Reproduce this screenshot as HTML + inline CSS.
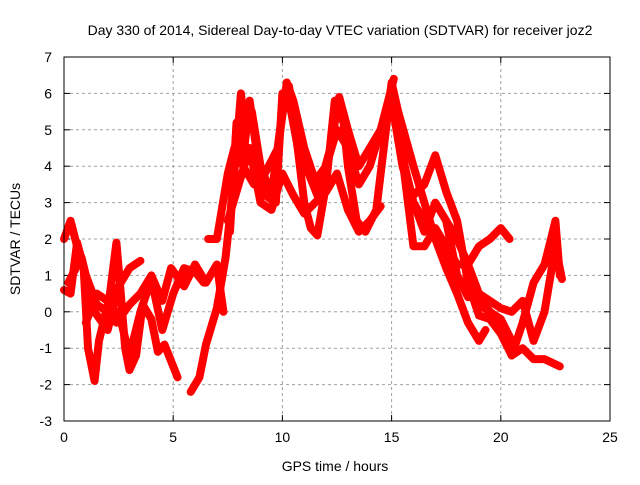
<!DOCTYPE html>
<html><head><meta charset="utf-8"><style>
body{margin:0;background:#fff}
svg text{font-family:"Liberation Sans",sans-serif;font-size:14px;fill:#000}
</style></head><body>
<svg id="chart" width="640" height="480" xmlns="http://www.w3.org/2000/svg">
<text x="340" y="35" text-anchor="middle">Day 330 of 2014, Sidereal Day-to-day VTEC variation (SDTVAR) for receiver joz2</text>
<text x="335" y="471" text-anchor="middle">GPS time / hours</text>
<text transform="translate(20,239) rotate(-90)" text-anchor="middle">SDTVAR / TECUs</text>
<g id="grid"></g>
<g id="ticks"></g>
<g id="series"></g>
<rect x="64" y="57" width="546" height="364" fill="none" stroke="#000" stroke-width="1"/>
</svg>
<script>
const xTicks=[0,5,10,15,20,25];
const yTicks=[-3,-2,-1,0,1,2,3,4,5,6,7];
const tracks=[
[[0,2.0],[0.3,2.5],[0.6,1.8],[0.9,1.2],[1.1,-1.0],[1.4,-1.9],[1.6,-0.8],[2.0,0.2]],
[[0,0.6],[0.3,0.5],[0.6,1.9],[1.0,1.0],[1.5,0.2],[2.0,0.0],[2.4,1.9],[2.6,0.5],[2.8,-1.0],[3.0,-1.6],[3.3,-1.2],[3.6,0.2],[4.0,-0.2],[4.3,-1.1],[4.6,-0.9],[5.0,-1.5],[5.2,-1.8]],
[[0.2,0.8],[0.8,1.5],[1.4,0.0],[2.0,-0.5],[2.5,0.7],[3.0,1.2],[3.5,1.4]],
[[1.0,-0.3],[1.5,0.5],[2.0,0.3],[2.4,-0.3],[3.0,0.2],[3.5,0.5],[4.0,1.0],[4.5,0.3],[4.9,1.2],[5.5,0.7],[6.0,1.3],[6.5,0.8],[7.0,1.3],[7.3,0.0]],
[[2.5,0.0],[3.0,-1.2],[3.5,0.0],[4.0,0.9],[4.5,-0.5],[5.0,0.5],[5.5,1.2],[6.0,1.1],[6.4,0.8]],
[[5.8,-2.2],[6.2,-1.8],[6.5,-0.9],[7.0,0.1],[7.4,1.5],[7.7,3.2],[7.9,4.5],[8.1,6.0],[8.3,5.0],[8.6,5.5],[9.0,4.0],[9.5,3.2],[10.0,5.5],[10.3,6.2],[10.6,5.0],[11.0,3.0],[11.3,2.3],[11.6,2.1],[12.0,3.5],[12.4,5.8],[12.8,5.2],[13.0,4.0],[13.4,2.5],[13.8,2.2],[14.3,2.8],[14.6,4.3],[15.0,6.3],[15.3,5.5],[15.6,4.0],[16.0,3.0],[16.5,2.5],[17.0,2.0],[17.5,1.2],[18.0,0.5],[18.5,-0.3],[19.0,-0.8],[19.3,-0.5]],
[[6.6,2.0],[7.0,2.0],[7.5,3.8],[7.8,4.5],[8.2,4.0],[8.7,3.5],[9.2,3.8],[9.8,4.5],[10.2,6.3],[10.5,5.8],[11.0,4.5],[11.5,3.6],[12.0,4.0],[12.5,5.0],[13.0,4.5],[13.5,3.5],[14.0,4.0],[14.5,5.0],[15.0,5.8],[15.5,4.0],[16.0,3.0],[16.5,2.2],[17.0,3.0],[17.5,2.5],[18.0,2.0],[18.5,1.3],[19.0,0.5],[19.5,0.0],[20.0,-0.5],[20.5,-1.2],[21.0,-1.0],[21.5,-1.3],[22.0,-1.3],[22.7,-1.5]],
[[7.5,2.5],[8.0,3.5],[8.5,4.5],[9.0,3.0],[9.5,2.8],[10.0,3.8],[10.5,3.2],[11.0,2.7],[11.5,3.0],[12.0,3.3],[12.5,3.8],[13.0,2.8],[13.5,2.2],[14.0,2.5],[14.5,2.9]],
[[7.6,2.2],[7.9,5.2],[8.2,4.2],[8.5,5.8],[8.8,4.5],[9.2,3.2],[9.7,3.0],[10.0,6.0],[10.4,5.5],[10.8,4.2],[11.2,3.8],[11.6,3.2],[12.2,4.5],[12.6,5.9],[13.0,5.0],[13.5,4.0],[14.0,4.5],[14.5,5.0],[15.1,6.4]],
[[15.3,5.5],[16.0,4.0],[16.5,3.0],[17.0,2.0],[17.5,1.5],[18.0,1.0],[18.5,0.5],[19.0,0.2],[19.5,0.0],[20.0,-0.2],[20.5,-0.8]],
[[15.0,6.0],[15.5,4.2],[16.0,1.8],[16.5,1.8],[17.0,2.3],[17.5,1.8],[18.0,1.3],[18.5,1.3],[19.0,1.8],[19.5,2.0],[20.0,2.3],[20.4,2.0]],
[[16.0,3.2],[16.5,3.5],[17.0,4.3],[17.5,3.3],[18.0,2.5],[18.5,0.8],[19.0,-0.1],[19.5,-0.2],[20.0,-0.6],[20.5,-1.2],[21.0,-0.3],[21.5,0.8],[22.0,1.3],[22.3,2.0],[22.5,2.5],[22.7,1.0]],
[[17.5,2.5],[18.0,1.0],[18.5,0.4],[19.0,0.5],[19.5,0.3],[20.0,0.1],[20.5,0.0],[21.0,0.3],[21.5,-0.8],[22.0,0.0],[22.5,1.8],[22.8,0.9]]
];
const NS="http://www.w3.org/2000/svg";
const X=v=>64+v*546/25, Y=v=>421-(v+3)*36.4;
const grid=document.getElementById('grid'), ticks=document.getElementById('ticks'), ser=document.getElementById('series');
function mk(t,a,p){const e=document.createElementNS(NS,t);for(const k in a)e.setAttribute(k,a[k]);p.appendChild(e);return e;}
xTicks.forEach(v=>{
 if(v>0&&v<25){const g=mk('line',{x1:X(v),x2:X(v),y1:57,y2:421,stroke:'#a0a0a0','stroke-dasharray':'3,3'},grid);
 
 }
 const t=mk('text',{x:X(v),y:442,'text-anchor':'middle'},ticks);t.textContent=v;
 
 
 mk('line',{x1:X(v),x2:X(v),y1:421,y2:415,stroke:'#000'},ticks);
 mk('line',{x1:X(v),x2:X(v),y1:57,y2:63,stroke:'#000'},ticks);
});
yTicks.forEach(v=>{
 if(v>-3&&v<7){const g=mk('line',{x1:64,x2:610,y1:Y(v),y2:Y(v),stroke:'#a0a0a0','stroke-dasharray':'3,3'},grid);
 
 }
 const t=mk('text',{x:52,y:Y(v)+5,'text-anchor':'end'},ticks);t.textContent=v;
 
 
 mk('line',{x1:64,x2:70,y1:Y(v),y2:Y(v),stroke:'#000'},ticks);
 mk('line',{x1:604,x2:610,y1:Y(v),y2:Y(v),stroke:'#000'},ticks);
});
tracks.forEach(tr=>{
 const p=mk('polyline',{points:tr.map(d=>X(d[0])+','+Y(d[1])).join(' '),fill:'none',stroke:'#ff0000','stroke-width':8,'stroke-linejoin':'round','stroke-linecap':'round'},ser);
 
 
});
</script>
</body></html>
